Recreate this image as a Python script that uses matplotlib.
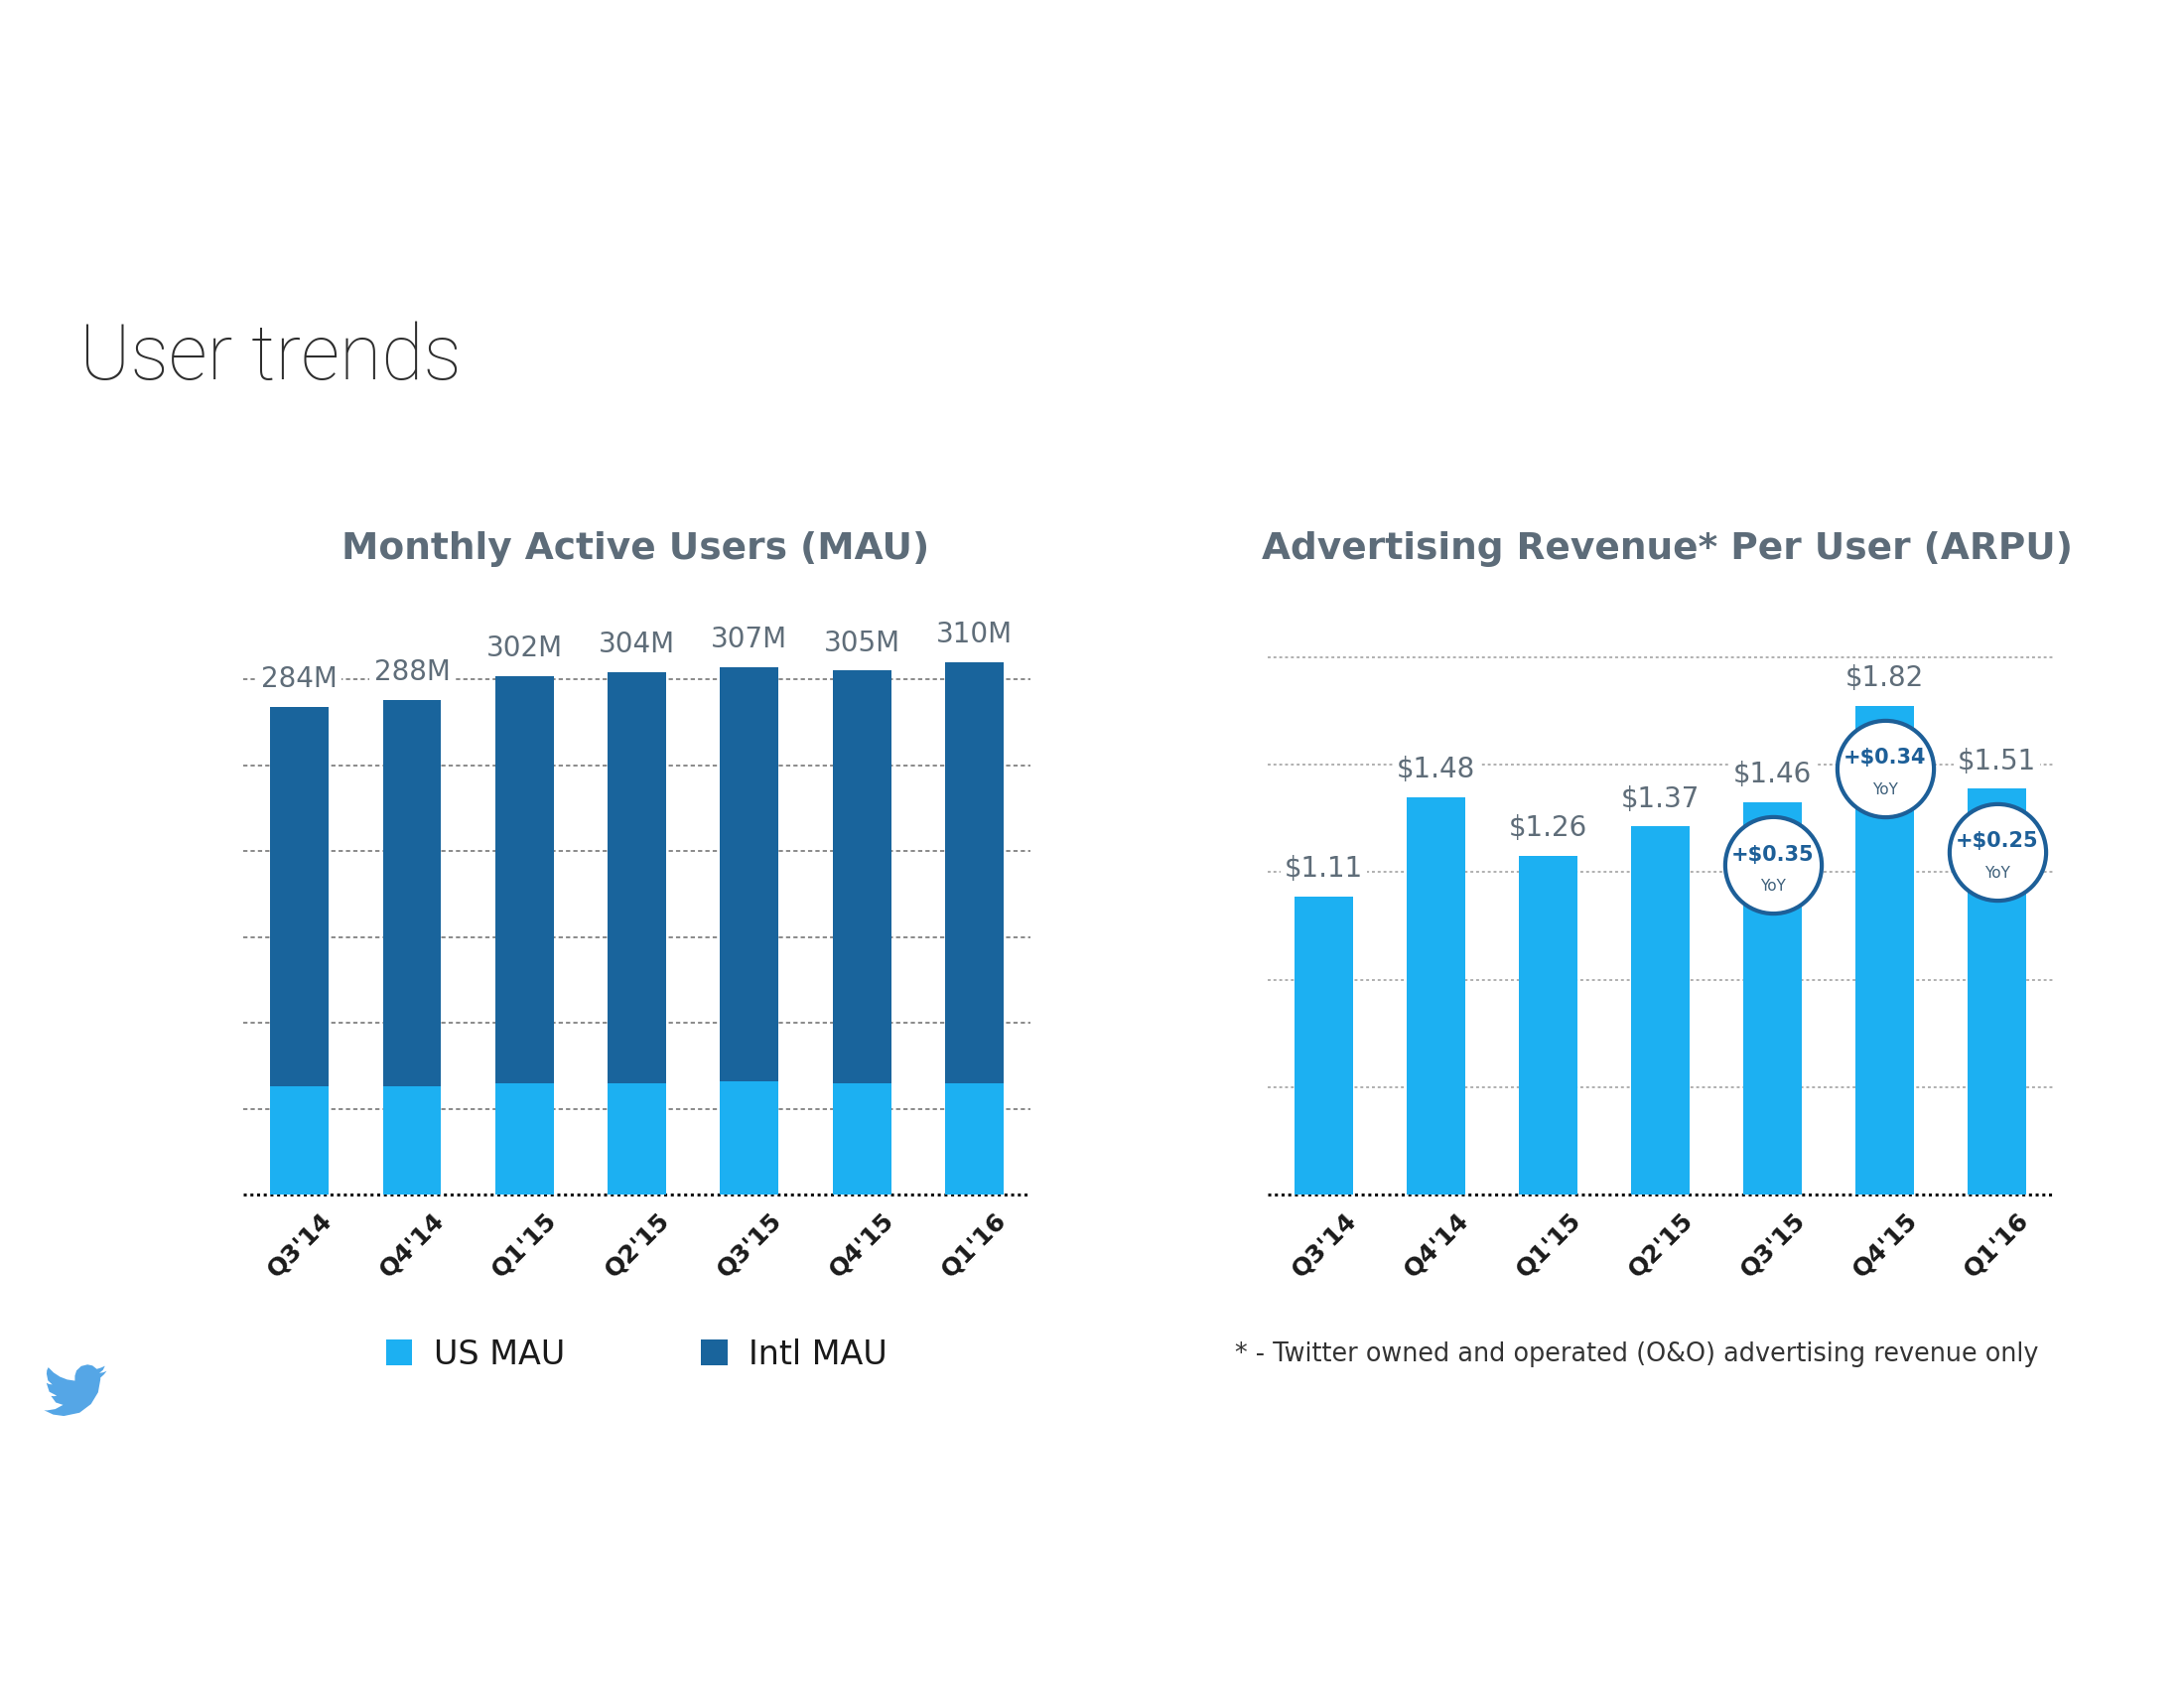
import matplotlib
matplotlib.use("Agg")
import matplotlib.pyplot as plt
import matplotlib.transforms as mtransforms
from matplotlib.patches import Patch, Polygon

# ---------------- data ----------------
quarters = ["Q3'14", "Q4'14", "Q1'15", "Q2'15", "Q3'15", "Q4'15", "Q1'16"]
us_mau = [63, 63, 65, 65, 66, 65, 65]
intl_mau = [221, 225, 237, 239, 241, 240, 245]
total_mau_labels = ["284M", "288M", "302M", "304M", "307M", "305M", "310M"]
arpu = [1.11, 1.48, 1.26, 1.37, 1.46, 1.82, 1.51]
arpu_labels = ["$1.11", "$1.48", "$1.26", "$1.37", "$1.46", "$1.82", "$1.51"]
yoy_idx = [4, 5, 6]
yoy_labels = ["+$0.35", "+$0.34", "+$0.25"]
mau_ticks = [50, 100, 150, 200, 250, 300]
arpu_ticks = [0.4, 0.8, 1.2, 1.6, 2.0]

# ---------------- style ----------------
US_BLUE = "#1cb0f2"
INTL_BLUE = "#19649c"
GRAY_TXT = "#5f6d79"
BADGE = "#1d5f98"
plt.rcParams["font.family"] = ["DejaVu Sans"]

fig = plt.figure(figsize=(22, 17), dpi=100)
fig.patch.set_facecolor("white")

ax1 = fig.add_axes([0.1114, 0.29235, 0.3605, 0.3358])
ax2 = fig.add_axes([0.5805, 0.29235, 0.3595, 0.3342])

x = list(range(len(quarters)))
bw = 0.52


def style_axis(ax, ticks, ylim, gridcolor, dash):
    ax.set_xlim(-0.5, 6.5)
    ax.set_ylim(*ylim)
    for s in ["top", "right", "left", "bottom"]:
        ax.spines[s].set_visible(False)
    ax.axhline(0, color="#111111", lw=2.2, ls=(0, (1, 1.2)), zorder=1, clip_on=False)
    for t in ticks:
        ax.axhline(t, color=gridcolor, lw=1.4, ls=dash, zorder=0)
    ax.set_yticks([])
    ax.set_xticks(x)
    ax.set_xticklabels(quarters, rotation=45, ha="center", va="top",
                       fontsize=18, fontweight="bold", color="#1a1a1a")
    ax.tick_params(axis="x", length=0, pad=10)
    ax.set_facecolor("none")


# ---- left: MAU stacked ----
style_axis(ax1, mau_ticks, (0, 330), "#8a8a8a", (0, (2.2, 1.6)))
ax1.bar(x, us_mau, width=bw, color=US_BLUE, zorder=2)
ax1.bar(x, intl_mau, width=bw, bottom=us_mau, color=INTL_BLUE, zorder=2)
for i in x:
    ax1.annotate(total_mau_labels[i], (i, us_mau[i] + intl_mau[i]),
                 xytext=(0, 20), textcoords="offset points",
                 ha="center", va="center", fontsize=20, color=GRAY_TXT,
                 bbox=dict(boxstyle="square,pad=0.15", fc="white", ec="none"),
                 zorder=4, annotation_clip=False)

# ---- right: ARPU ----
style_axis(ax2, arpu_ticks, (0, 2.1), "#b0b0b0", (0, (1.5, 1.5)))
ax2.bar(x, arpu, width=bw, color=US_BLUE, zorder=2)
for i in x:
    ax2.annotate(arpu_labels[i], (i, arpu[i]),
                 xytext=(0, 20), textcoords="offset points",
                 ha="center", va="center", fontsize=20, color=GRAY_TXT,
                 bbox=dict(boxstyle="square,pad=0.15", fc="white", ec="none"),
                 zorder=4, annotation_clip=False)

circ_trans = mtransforms.offset_copy(ax2.transData, fig=fig, x=0, y=-45.5, units="points")
bx = [x[i] for i in yoy_idx]
by = [arpu[i] for i in yoy_idx]
ax2.scatter(bx, by, s=70 ** 2, marker="o", facecolor="white", edgecolor=BADGE,
            linewidth=3, transform=circ_trans, zorder=5, clip_on=False)
for i, lab in zip(yoy_idx, yoy_labels):
    ax2.annotate(lab, (x[i], arpu[i]), xytext=(0, -38), textcoords="offset points",
                 ha="center", va="center", fontsize=15, fontweight="bold",
                 color=BADGE, zorder=6, annotation_clip=False)
    ax2.annotate("YoY", (x[i], arpu[i]), xytext=(0, -61), textcoords="offset points",
                 ha="center", va="center", fontsize=11, color="#3d5f7a",
                 zorder=6, annotation_clip=False)

# ---- titles and text ----
fig.text(0.0364, 0.788, "User trends", fontsize=55.5, color="#2e2e2e",
         family=["Roboto", "DejaVu Sans"], fontweight="light", ha="left", va="center")
fig.text(0.2909, 0.6747, "Monthly Active Users (MAU)", fontsize=27, fontweight="bold",
         color="#5d6c79", ha="center", va="center")
fig.text(0.7632, 0.6747, "Advertising Revenue* Per User (ARPU)", fontsize=27,
         fontweight="bold", color="#5d6c79", ha="center", va="center")
fig.text(0.5655, 0.1976, "* - Twitter owned and operated (O&O) advertising revenue only",
         fontsize=18.4, color="#333333", ha="left", va="center")

handles = [Patch(facecolor=US_BLUE, label="US MAU"),
           Patch(facecolor=INTL_BLUE, label="Intl MAU")]
leg = fig.legend(handles=handles, loc="center", bbox_to_anchor=(0.2915, 0.1976),
                 ncol=2, frameon=False, fontsize=24, handlelength=0.8,
                 handleheight=0.8, handletextpad=0.65, columnspacing=4.1)
for t in leg.get_texts():
    t.set_color("#1a1a1a")

# ---- bird logo (decorative) ----
bird = [(23.953, 4.57), (22.6, 5.1), (21.128, 5.345), (22.5, 4.2), (23.291, 2.622),
        (21.8, 3.3), (20.164, 3.806), (18.5, 2.5), (16.6, 2.1), (14.2, 2.7),
        (12.4, 4.4), (11.78, 6.4), (11.78, 8.288), (8.82, 7.83), (6.09, 6.77),
        (3.68, 5.2), (1.64, 3.162), (1.1, 4.3), (0.974, 5.637), (1.5, 8.2),
        (3.162, 9.733), (2.0, 9.6), (0.934, 9.117), (0.934, 9.177), (2.0, 12.5),
        (4.88, 14.004), (3.8, 14.2), (2.668, 14.089), (4.5, 16.6), (7.272, 17.506),
        (4.3, 19.1), (1.17, 19.611), (0.0, 19.544), (3.5, 21.2), (7.557, 21.753),
        (13.58, 20.49), (17.95, 17.19), (20.66, 12.72), (21.555, 7.768),
        (21.54, 7.138), (22.9, 5.9)]
lax = fig.add_axes([42 / 2200, 1 - 1432 / 1700, 68 / 2200, 58 / 1700])
lax.add_patch(Polygon([(px, 24 - py) for px, py in bird], closed=True,
                      facecolor="#55a6e6", edgecolor="none"))
lax.set_xlim(0, 24)
lax.set_ylim(0, 22)
lax.set_aspect("equal")
lax.axis("off")

fig.savefig("out.png", dpi=100, facecolor="white")
